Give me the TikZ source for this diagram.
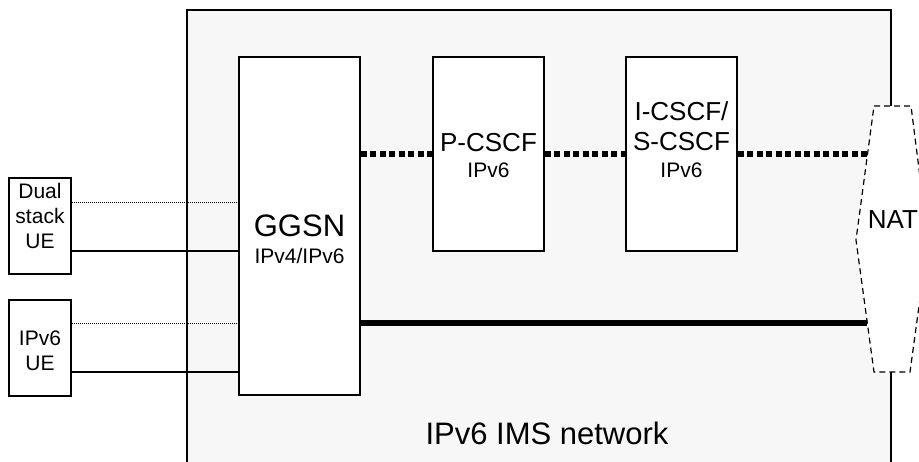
\documentclass[tikz,border=0pt]{standalone}
\usepackage{fontspec}
\setmainfont{Liberation Sans}
\definecolor{imsgray}{HTML}{F7F7F7}
\tikzset{box/.style={rectangle, draw=black, line width=1.4pt, fill=white, inner sep=0pt}}
\tikzset{big/.style={font=\fontsize{31}{36}\selectfont, anchor=base, inner sep=0pt}}
\tikzset{mid/.style={font=\fontsize{26}{30}\selectfont, anchor=base, inner sep=0pt}}
\tikzset{small/.style={font=\fontsize{21}{25}\selectfont, anchor=base, inner sep=0pt}}
\tikzset{thinline/.style={line width=1.4pt}}
\tikzset{thindot/.style={line width=1pt, dash pattern=on 1pt off 1pt}}
\tikzset{bigdot/.style={line width=5.5pt, dash pattern=on 6pt off 3.5pt}}
\tikzset{fatline/.style={line width=6.5pt}}
\tikzset{natline/.style={line width=1.2pt, dash pattern=on 6pt off 4pt, fill=white}}

\begin{document}
\begin{tikzpicture}[x=1pt, y=-1pt]
\useasboundingbox (0,0) rectangle (919,461);
\clip (0,0) rectangle (919,461);
\draw[thinline, fill=imsgray] (187,10) rectangle (891,480);
\node (ue1) [box, minimum width=62pt, minimum height=96pt] at (40,226) {};
\node (ue2) [box, minimum width=62pt, minimum height=96pt] at (40,348) {};
\node (ggsn) [box, minimum width=121pt, minimum height=338pt] at (299.5,226) {};
\node (pcscf) [box, minimum width=111pt, minimum height=194pt] at (488.5,154) {};
\node (icscf) [box, minimum width=111pt, minimum height=194pt] at (681.5,154) {};
\coordinate (natin1) at (867,154);
\coordinate (natin2) at (867,323);
\draw [thindot] ([yshift=24pt]ue1.east) -- ([yshift=24pt]ue1.east -| ggsn.west);
\draw [thinline] ([yshift=-25pt]ue1.east) -- ([yshift=-25pt]ue1.east -| ggsn.west);
\draw [thindot] ([yshift=25pt]ue2.east) -- ([yshift=25pt]ue2.east -| ggsn.west);
\draw [thinline] ([yshift=-24pt]ue2.east) -- ([yshift=-24pt]ue2.east -| ggsn.west);
\draw [bigdot] (pcscf.west -| ggsn.east) -- (pcscf.west);
\draw [bigdot] (pcscf.east) -- (icscf.west);
\draw [bigdot] (icscf.east) -- (natin1);
\draw [fatline] (natin2 -| ggsn.east) -- (natin2);
\draw [natline] (874,106) -- (911,106) -- (928,240) -- (910,372) -- (874,372) -- (856,240) -- cycle;
\node (dual1) [small] at (40,198) {Dual};
\node (dual2) [small] at (40,223) {stack};
\node (dual3) [small] at (40,248) {UE};
\node (v6ue1) [small] at (40,345) {IPv6};
\node (v6ue2) [small] at (40,370) {UE};
\node (ggsnname) [big] at (299.5,236) {GGSN};
\node (ggsnip) [small] at (299.5,263) {IPv4/IPv6};
\node (pcscfname) [mid] at (488.5,151) {P-CSCF};
\node (pcscfip) [small] at (488.5,177) {IPv6};
\node (icscfname1) [mid] at (681.5,120) {I-CSCF/};
\node (icscfname2) [mid] at (681.5,150) {S-CSCF};
\node (icscfip) [small] at (681.5,177) {IPv6};
\node (nat) [mid] at (893,228) {NAT};
\node (ims) [big] at (547,444) {IPv6 IMS network};
\end{tikzpicture}
\end{document}
